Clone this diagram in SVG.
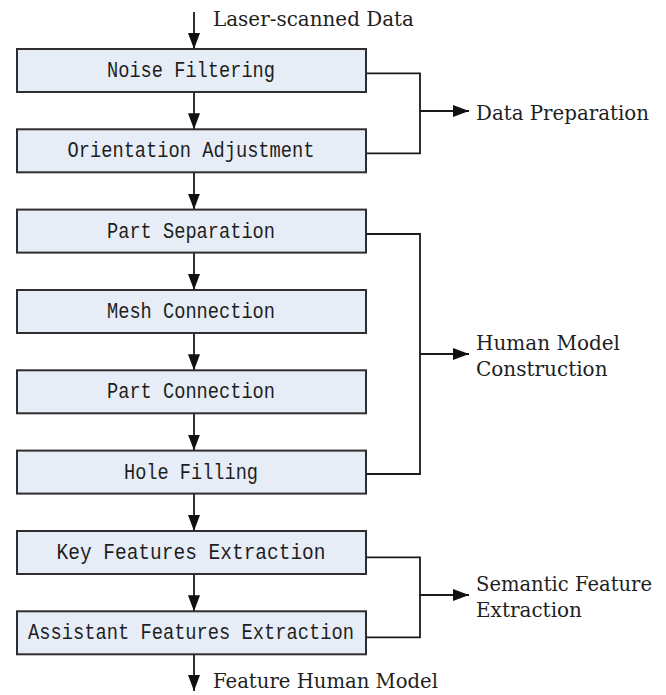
<svg xmlns="http://www.w3.org/2000/svg" width="666" height="695" viewBox="0 0 666 695">
<style>
.box{fill:#e7edf7;stroke:#2e2e2e;stroke-width:2}
.bt{font-family:"Liberation Mono","DejaVu Sans Mono",monospace;font-size:22px;fill:#1e1e1e;text-anchor:middle}
.lt{font-family:"DejaVu Serif","Liberation Serif",serif;font-size:20px;fill:#1e1e1e}
.ln{fill:none;stroke:#1a1a1a;stroke-width:1.8}
</style>
<defs>
<marker id="ah" markerUnits="userSpaceOnUse" markerWidth="16" markerHeight="12" viewBox="0 0 16 12" refX="16" refY="6" orient="auto">
<path d="M0,0 L16,6 L0,12 Z" fill="#111"/>
</marker>
</defs>
<g id="connectors">
<line class="ln" x1="194" y1="12" x2="194" y2="49" marker-end="url(#ah)"/>
<line class="ln" x1="194" y1="92" x2="194" y2="129.3" marker-end="url(#ah)"/>
<line class="ln" x1="194" y1="172.3" x2="194" y2="209.6" marker-end="url(#ah)"/>
<line class="ln" x1="194" y1="252.6" x2="194" y2="290" marker-end="url(#ah)"/>
<line class="ln" x1="194" y1="333" x2="194" y2="370.3" marker-end="url(#ah)"/>
<line class="ln" x1="194" y1="413.3" x2="194" y2="450.6" marker-end="url(#ah)"/>
<line class="ln" x1="194" y1="493.6" x2="194" y2="531" marker-end="url(#ah)"/>
<line class="ln" x1="194" y1="574" x2="194" y2="611.3" marker-end="url(#ah)"/>
<line class="ln" x1="194" y1="654.3" x2="194" y2="691" marker-end="url(#ah)"/>
<path class="ln" d="M366,73.3 H420 V153.3 H366"/>
<line class="ln" x1="420" y1="111" x2="469" y2="111" marker-end="url(#ah)"/>
<path class="ln" d="M366,234 H420 V474 H366"/>
<line class="ln" x1="420" y1="354" x2="469" y2="354" marker-end="url(#ah)"/>
<path class="ln" d="M366,557.3 H420 V637.3 H366"/>
<line class="ln" x1="420" y1="595" x2="469" y2="595" marker-end="url(#ah)"/>
</g>
<g id="n1"><rect class="box" x="17" y="49" width="349" height="43"/><text class="bt" x="191" y="77" textLength="168" lengthAdjust="spacingAndGlyphs">Noise Filtering</text></g>
<g id="n2"><rect class="box" x="17" y="129.3" width="349" height="43"/><text class="bt" x="191" y="157.3" textLength="247" lengthAdjust="spacingAndGlyphs">Orientation Adjustment</text></g>
<g id="n3"><rect class="box" x="17" y="209.6" width="349" height="43"/><text class="bt" x="191" y="237.6" textLength="168" lengthAdjust="spacingAndGlyphs">Part Separation</text></g>
<g id="n4"><rect class="box" x="17" y="290" width="349" height="43"/><text class="bt" x="191" y="318" textLength="168" lengthAdjust="spacingAndGlyphs">Mesh Connection</text></g>
<g id="n5"><rect class="box" x="17" y="370.3" width="349" height="43"/><text class="bt" x="191" y="398.3" textLength="168" lengthAdjust="spacingAndGlyphs">Part Connection</text></g>
<g id="n6"><rect class="box" x="17" y="450.6" width="349" height="43"/><text class="bt" x="191" y="478.6" textLength="134" lengthAdjust="spacingAndGlyphs">Hole Filling</text></g>
<g id="n7"><rect class="box" x="17" y="531" width="349" height="43"/><text class="bt" x="191" y="559" textLength="269" lengthAdjust="spacingAndGlyphs">Key Features Extraction</text></g>
<g id="n8"><rect class="box" x="17" y="611.3" width="349" height="43"/><text class="bt" x="191" y="639.3" textLength="326" lengthAdjust="spacingAndGlyphs">Assistant Features Extraction</text></g>
<g id="labels">
<text class="lt" x="213" y="26" textLength="201" lengthAdjust="spacingAndGlyphs">Laser-scanned Data</text>
<text class="lt" x="476" y="120" textLength="173" lengthAdjust="spacingAndGlyphs">Data Preparation</text>
<text class="lt" x="476" y="350">Human Model</text>
<text class="lt" x="476" y="376">Construction</text>
<text class="lt" x="476" y="591" textLength="176" lengthAdjust="spacingAndGlyphs">Semantic Feature</text>
<text class="lt" x="476" y="617">Extraction</text>
<text class="lt" x="213" y="688" textLength="225" lengthAdjust="spacingAndGlyphs">Feature Human Model</text>
</g>
</svg>
